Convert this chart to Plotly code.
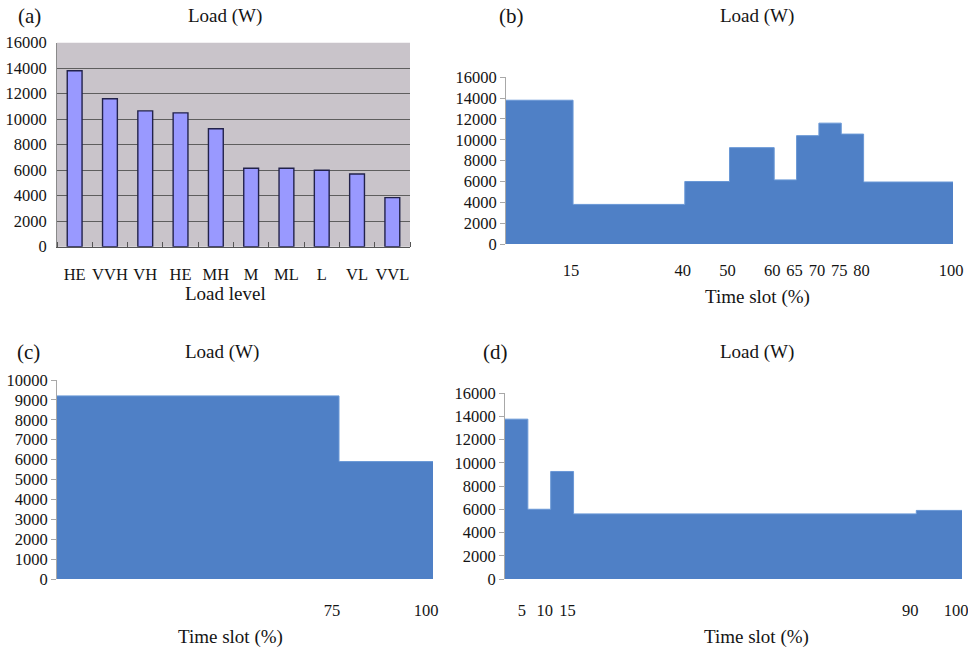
import plotly.graph_objects as go

# ---------------- data ----------------
level_labels = ["HE", "VVH", "VH", "HE", "MH", "M", "ML", "L", "VL", "VVL"]
level_loads = [13800, 11600, 10650, 10500, 9250, 6150, 6150, 6000, 5700, 3850]

b_breaks = [0, 15, 40, 50, 60, 65, 70, 75, 80, 100]
b_loads = [13800, 3800, 6000, 9250, 6150, 10400, 11600, 10550, 5950]
b_ticks = [15, 40, 50, 60, 65, 70, 75, 80, 100]

c_breaks = [0, 75, 100]
c_loads = [9200, 5900]
c_ticks = [75, 100]

d_breaks = [0, 5, 10, 15, 90, 100]
d_loads = [13750, 6000, 9250, 5600, 5900]
d_ticks = [5, 10, 15, 90, 100]

# ---------------- style ----------------
W, H = 968, 650
FONT = "'Liberation Serif', 'DejaVu Serif', serif"
TXT = "#141414"
BLUE = "#4F80C6"
AX = "#a8a8a8"


def px_x(a, b):
    return [a / W, b / W]


def px_y(top, bottom):
    return [1 - bottom / H, 1 - top / H]


def step_xy(breaks, loads):
    return list(breaks), list(loads) + [loads[-1]]


fig = go.Figure()

# (a) bar chart
fig.add_trace(go.Bar(
    x=list(range(len(level_labels))), y=level_loads,
    marker=dict(color="#9999FF", line=dict(color="#22224a", width=1.4)),
    width=0.42, xaxis="x", yaxis="y", showlegend=False,
))

# (b), (c), (d) step areas
for (br, ld, xa, ya) in [(b_breaks, b_loads, "x2", "y2"),
                         (c_breaks, c_loads, "x3", "y3"),
                         (d_breaks, d_loads, "x4", "y4")]:
    xs, ys = step_xy(br, ld)
    fig.add_trace(go.Scatter(
        x=xs, y=ys, mode="lines", line=dict(shape="hv", color="#6a98d6", width=1),
        fill="tozeroy", fillcolor=BLUE, xaxis=xa, yaxis=ya, showlegend=False,
        hoverinfo="skip",
    ))

tickfont = dict(family=FONT, size=16.5, color=TXT)

common_y = dict(showgrid=False, zeroline=False, showline=True, linecolor=AX,
                linewidth=1, ticks="outside", ticklen=5, tickcolor=AX,
                tickfont=tickfont, tickformat="d", fixedrange=True,
                automargin=False)
common_x = dict(ticks="", showline=False, showgrid=False, zeroline=False,
                tickfont=tickfont, automargin=False, range=[0, 100],
                tickmode="array", ticklabeloverflow="allow")

fig.update_layout(
    width=W, height=H,
    margin=dict(l=0, r=0, t=0, b=0, pad=0, autoexpand=False),
    paper_bgcolor="white", plot_bgcolor="rgba(0,0,0,0)",
    font=dict(family=FONT, color=TXT),
    xaxis=dict(domain=px_x(57, 410), anchor="y", range=[-0.5, 9.5],
               tickmode="array", tickvals=list(range(len(level_labels))),
               ticktext=level_labels, ticks="", ticklabelstandoff=12,
               showline=True, linecolor="#555555", linewidth=1.2,
               showgrid=False, zeroline=False, tickfont=tickfont,
               automargin=False,
               minor=dict(tickmode="array",
                          tickvals=[i + 0.5 for i in range(-1, len(level_labels))],
                          ticks="inside", ticklen=5, tickcolor="#555555",
                          showgrid=False)),
    yaxis=dict(domain=px_y(42.7, 246.7), anchor="x", range=[0, 16000],
               dtick=2000, showgrid=True, gridcolor="#5e5e5e", gridwidth=1,
               zeroline=False, showline=True, linecolor="#8a8a8a", ticks="",
               ticklabelstandoff=6, tickfont=tickfont, tickformat="d",
               automargin=False),
    xaxis2=dict(domain=px_x(506, 953), anchor="y2", tickvals=b_ticks,
                ticklabelstandoff=14, ticklabelshift=-2, **common_x),
    yaxis2=dict(domain=px_y(77.3, 244), anchor="x2", range=[0, 16000],
                dtick=2000, **common_y),
    xaxis3=dict(domain=px_x(57, 433), anchor="y3", tickvals=c_ticks,
                ticklabelstandoff=19, ticklabelshift=-7, **common_x),
    yaxis3=dict(domain=px_y(380, 579), anchor="x3", range=[0, 10000],
                dtick=1000, **common_y),
    xaxis4=dict(domain=px_x(505, 962), anchor="y4", tickvals=d_ticks,
                ticklabelstandoff=19, ticklabelshift=-6, **common_x),
    yaxis4=dict(domain=px_y(393, 579), anchor="x4", range=[0, 16000],
                dtick=2000, **common_y),
)

# grey plot background for panel (a)
fig.add_shape(type="rect", xref="x domain", yref="y domain", x0=0, x1=1, y0=0, y1=1,
              fillcolor="#c9c4ca", line=dict(width=0), layer="below")

# text annotations
def ann(text, x, y, size=19):
    fig.add_annotation(text=text, x=x / W, y=1 - y / H, xref="paper", yref="paper",
                       showarrow=False, xanchor="center", yanchor="middle",
                       font=dict(family=FONT, size=size, color=TXT))

ann("(a)", 29, 16, 21)
ann("Load (W)", 225, 16)
ann("Load level", 225, 293)
ann("(b)", 511, 16, 21)
ann("Load (W)", 757, 16)
ann("Time slot (%)", 757, 297)
ann("(c)", 28, 352, 21)
ann("Load (W)", 222, 352)
ann("Time slot (%)", 230, 637)
ann("(d)", 496, 352, 21)
ann("Load (W)", 757, 352)
ann("Time slot (%)", 756, 637)

fig.write_html("out.html")
